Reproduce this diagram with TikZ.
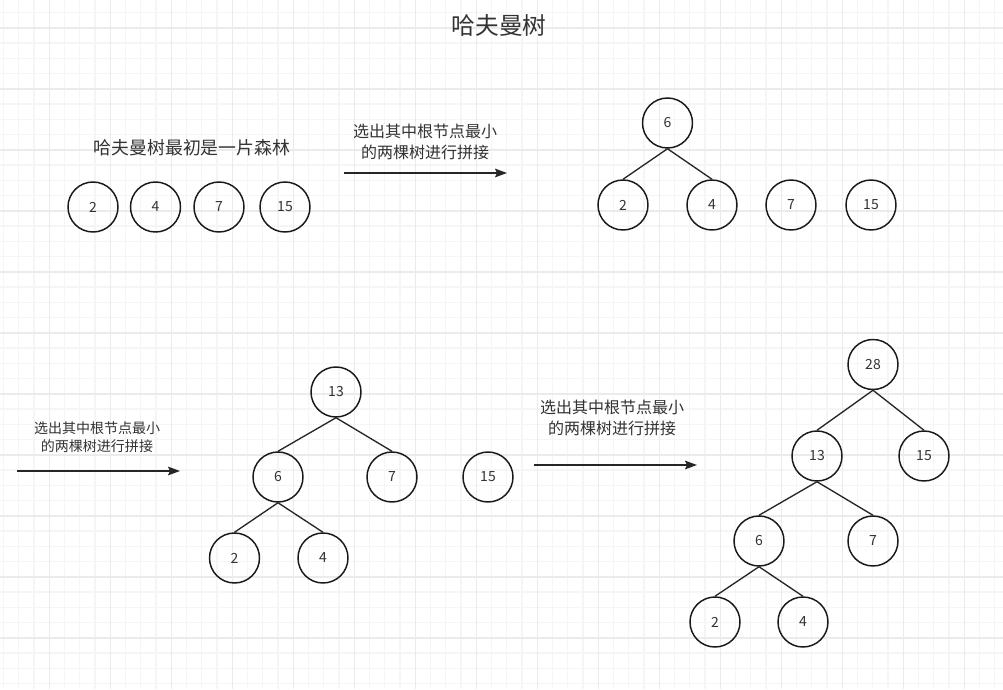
\documentclass[tikz,border=0pt]{standalone}
\usepackage{fontspec}
\setmainfont{Noto Sans CJK SC}
\usetikzlibrary{arrows.meta}

\tikzset{
  minorgrid/.style={draw=black!4, line width=1pt},
  majorgrid/.style={draw=black!8, line width=1.2pt},
  leaf/.style={circle, draw=black!90, line width=1.1pt, minimum size=37.5pt,
    inner sep=0pt, text=black!80, font=\fontsize{10.5}{12}\selectfont},
  edge/.style={draw=black!85, line width=1pt},
  step arrow/.style={draw=black!85, line width=1pt, -{Stealth[length=9pt, width=6.5pt, inset=1.5pt]}},
  note/.style={text=black!80, align=center, inner sep=0pt}
}

\begin{document}
\begin{tikzpicture}[x=0.75pt, y=-0.75pt]

\useasboundingbox (0,0) rectangle (1003,689);
\fill[white] (0,0) rectangle (1003,689);

% 背景のグリッド
\begin{scope}
\clip (0,0) rectangle (1003,689);
\foreach \i in {0,...,67} \draw[minorgrid] ({-11.7+15.25*\i},0) -- ++(0,689);
\foreach \i in {0,...,45} \draw[minorgrid] (0,{-2.8+15.25*\i}) -- ++(1003,0);
\foreach \i in {0,...,16} \draw[majorgrid] ({-11.7+61*\i},0) -- ++(0,689);
\foreach \i in {0,...,12} \draw[majorgrid] (0,{-33.3+61*\i}) -- ++(1003,0);
\end{scope}

\node[note, font=\fontsize{17.8}{20}\selectfont] (title) at (499,26) {哈夫曼树};
\node[note, font=\fontsize{13.4}{16}\selectfont] (forest) at (192,148) {哈夫曼树最初是一片森林};

% 最初の森
\node[leaf] (a2) at (93,207) {2};
\node[leaf] (a4) at (155.5,207) {4};
\node[leaf] (a7) at (219,207) {7};
\node[leaf] (a15) at (285,207) {15};

% 一回目
\coordinate (s1) at (344,173);
\coordinate (e1) at (507,173);
\draw[step arrow] (s1) -- (e1);
\node[note, font=\fontsize{12}{15.75}\selectfont] (n1) at (425,141.5) {选出其中根节点最小\\的两棵树进行拼接};

\node[leaf] (b6) at (667.5,123) {6};
\node[leaf] (b2) at (623,205) {2};
\node[leaf] (b4) at (712,205) {4};
\node[leaf] (b7) at (791,205) {7};
\node[leaf] (b15) at (871,205) {15};
\draw[edge] (b6.south) -- (b2.north);
\draw[edge] (b6.south) -- (b4.north);

% 二回目
\coordinate (s2) at (17,471);
\coordinate (e2) at (180,471);
\draw[step arrow] (s2) -- (e2);
\node[note, font=\fontsize{10.5}{13.5}\selectfont] (n2) at (97,437) {选出其中根节点最小\\的两棵树进行拼接};

\node[leaf] (c13) at (336,392) {13};
\node[leaf] (c6) at (278,477) {6};
\node[leaf] (c7) at (392,477) {7};
\node[leaf] (c15) at (488,477) {15};
\node[leaf] (c2) at (234.5,558) {2};
\node[leaf] (c4) at (323,558) {4};
\draw[edge] (c13.south) -- (c6.north);
\draw[edge] (c13.south) -- (c7.north);
\draw[edge] (c6.south) -- (c2.north);
\draw[edge] (c6.south) -- (c4.north);

% 三回目
\coordinate (s3) at (534,465);
\coordinate (e3) at (697,465);
\draw[step arrow] (s3) -- (e3);
\node[note, font=\fontsize{12}{15.75}\selectfont] (n3) at (612,417.5) {选出其中根节点最小\\的两棵树进行拼接};

\node[leaf] (d28) at (873,364.5) {28};
\node[leaf] (d13) at (817,456) {13};
\node[leaf] (d15) at (924,456) {15};
\node[leaf] (d6) at (759,541) {6};
\node[leaf] (d7) at (873,541) {7};
\node[leaf] (d2) at (715,622) {2};
\node[leaf] (d4) at (803,622) {4};
\draw[edge] (d28.south) -- (d13.north);
\draw[edge] (d28.south) -- (d15.north);
\draw[edge] (d13.south) -- (d6.north);
\draw[edge] (d13.south) -- (d7.north);
\draw[edge] (d6.south) -- (d2.north);
\draw[edge] (d6.south) -- (d4.north);

\end{tikzpicture}
\end{document}
